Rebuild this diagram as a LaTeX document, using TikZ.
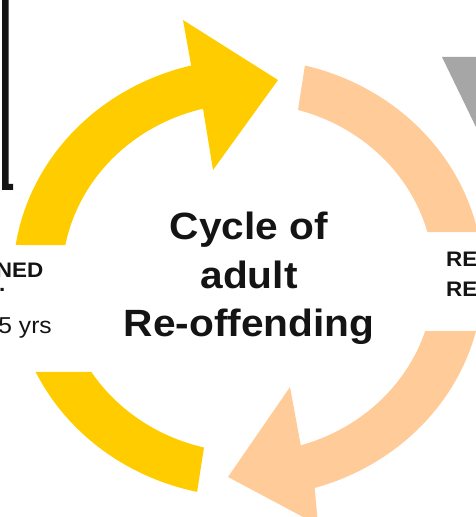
\documentclass[tikz,border=0pt]{standalone}
\usepackage{fontspec}
\setmainfont{Liberation Sans}
\definecolor{cycyellow}{RGB}{255,204,0}
\definecolor{cycpeach}{RGB}{255,204,153}
\definecolor{cycgray}{RGB}{166,166,166}
\definecolor{cycink}{RGB}{20,20,20}
\begin{document}
\begin{tikzpicture}[x=1pt,y=1pt,
  yarc/.style={fill=cycyellow},
  parc/.style={fill=cycpeach},
  bigtxt/.style={font=\fontsize{38}{48.5}\selectfont\bfseries, align=center, inner sep=0pt, xscale=1.07, text=cycink},
  sidebold/.style={font=\fontsize{21}{26}\selectfont\bfseries, inner sep=0pt, xscale=1.07, text=cycink},
  sidereg/.style={font=\fontsize{23}{28}\selectfont, inner sep=0pt, xscale=1.07, text=cycink}]
\useasboundingbox (0,0) rectangle (476,517);
\clip (0,0) rectangle (476,517);
% black bracket line at left
\fill[cycink] (2,517) -- (8.5,517) -- (8.5,333) -- (13,333) -- (13,327) -- (2,327) -- cycle;
% gray triangle top right
\fill[cycgray] (442,460) -- (490,460) -- (490,361) -- cycle;
% yellow upper-left arc with arrowhead
\fill[yarc] (15.7,272) arc[start angle=171.33, end angle=104, x radius=235pt, y radius=219pt]
  -- (183,497) -- (278,437) -- (213,347) -- (203,408.3)
  arc[start angle=104, end angle=169.1, x radius=186pt, y radius=174.5pt] -- cycle;
% peach upper-right arc
\fill[parc] (304.9,451.5) arc[start angle=76, end angle=12.1, x radius=235pt, y radius=219pt]
  -- (427.4,285)
  arc[start angle=15.3, end angle=74.4, x radius=186pt, y radius=174.5pt] -- cycle;
% peach lower-right arc with arrowhead
\fill[parc] (476,186) arc[start angle=-14, end angle=-73.5, x radius=235pt, y radius=219pt]
  -- (318,-8) -- (228,40) -- (290,130) -- (300.8,71.7)
  arc[start angle=-73.5, end angle=-17.7, x radius=186pt, y radius=174.5pt] -- cycle;
% yellow lower-left arc
\fill[yarc] (35.7,145) arc[start angle=205.4, end angle=257.5, x radius=235pt, y radius=219pt]
  -- (204,69.5)
  arc[start angle=256.3, end angle=212.6, x radius=186pt, y radius=174.5pt] -- cycle;
% texts
\node[bigtxt] (title) at (249,238.3) {Cycle of\\adult\\Re-offending};
\node[sidebold, anchor=base east] (leftA) at (43.5,239) {NED};
\node[sidebold, anchor=base west] (leftB) at (-1,225) {.};
\node[sidereg, anchor=base east] (leftC) at (52,183) {5 yrs};
\node[sidebold, anchor=base west] (rightA) at (446,250) {RE};
\node[sidebold, anchor=base west] (rightB) at (446,220) {RE};
\end{tikzpicture}
\end{document}
